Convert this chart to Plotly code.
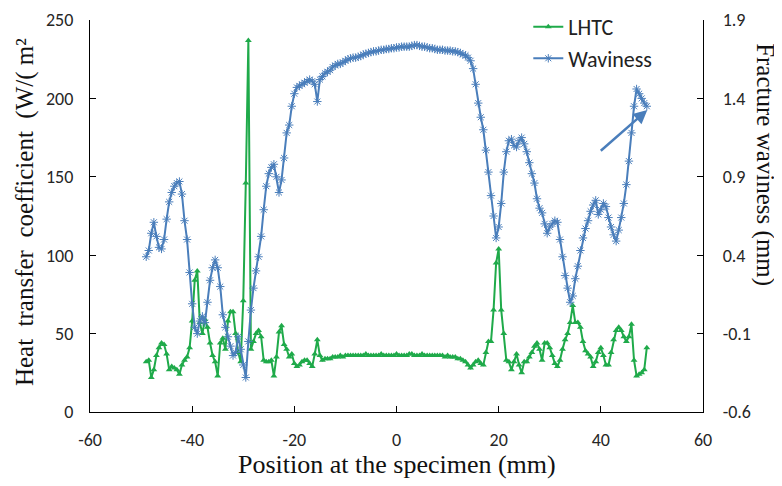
import numpy as np
import plotly.graph_objects as go

# Sample positions (mm) – both series sampled every 0.5 mm from -49 to 49
position_mm = np.arange(-49.0, 49.01, 0.5)

# Local heat transfer coefficient, W/(m2 K)  (left axis)
lhtc = [
    32, 33, 22, 27, 36, 41, 44, 43, 37, 27,
    29, 28, 27, 24, 30, 33, 35, 41, 58, 84,
    90, 57, 50, 59, 54, 44, 36, 32, 23, 44,
    47, 40, 58, 64, 64, 50, 38, 32, 71, 146,
    237,
    40, 45, 50, 52, 48, 33, 32, 32, 33, 23,
    35, 51, 55, 43, 40, 35, 37, 31, 29, 30,
    32, 33, 33, 31, 29, 37, 46, 36, 33, 34,
    34, 34,
    35, 35, 35, 36, 35, 36, 36, 36, 36, 36,
    36, 36, 36, 37, 36, 36, 36, 36, 36, 37,
    36, 36, 36, 36, 36, 37, 36, 36, 36, 36,
    37, 37, 36, 36, 36, 37, 36, 36, 36, 36,
    36, 36, 36, 36, 35, 36, 35, 35, 35, 34,
    34,
    33, 32, 30, 28, 30, 32, 33, 31, 30, 38,
    45, 45, 65, 95, 104, 65, 50, 33, 32, 27,
    32, 37, 30, 25, 32, 32, 35, 38, 42, 44,
    40, 33, 44, 44, 41, 36, 31, 29, 33, 40,
    46, 50, 57, 68, 57, 57, 54, 45, 39, 37,
    35, 29, 32, 38, 41, 36, 30, 30, 38, 46,
    52, 54, 52, 48, 45, 48, 56, 33, 23, 24,
    25, 27, 41,
]

# Fracture waviness, mm (right axis)
waviness = [
    0.39, 0.43, 0.54, 0.61, 0.52, 0.45, 0.44, 0.50, 0.63, 0.74,
    0.80, 0.84, 0.86, 0.87, 0.79, 0.62, 0.50, 0.29, 0.09, -0.06,
    -0.10, -0.02, 0.01, -0.03, 0.10, 0.24, 0.32, 0.37, 0.32, 0.20,
    0.02, -0.06, -0.12, -0.18, -0.24, -0.22, -0.12, -0.20, -0.30, -0.38,
    -0.15, 0.05, 0.19, 0.30, 0.39, 0.52, 0.69, 0.84, 0.92, 0.96,
    0.98, 0.90, 0.80, 0.88, 1.02, 1.18, 1.23, 1.35, 1.43, 1.47,
    1.48, 1.49, 1.50, 1.51, 1.52, 1.51, 1.49, 1.38, 1.52, 1.54,
    1.56, 1.57, 1.58, 1.60, 1.61, 1.62, 1.62, 1.63, 1.64, 1.65,
    1.655, 1.66, 1.66, 1.665, 1.67, 1.68, 1.685, 1.69, 1.695, 1.70,
    1.70, 1.705, 1.71, 1.71, 1.715, 1.715, 1.72, 1.72, 1.725, 1.725,
    1.73, 1.73, 1.73, 1.73, 1.735, 1.74, 1.74, 1.735, 1.73, 1.73,
    1.725, 1.72, 1.72, 1.715, 1.71, 1.71, 1.71, 1.705, 1.705, 1.705,
    1.70, 1.70, 1.695, 1.69, 1.68, 1.675, 1.66, 1.64, 1.59, 1.49,
    1.37, 1.28, 1.20, 1.07, 0.93, 0.78, 0.65, 0.51, 0.58, 0.73,
    0.93, 1.06, 1.13, 1.14, 1.10, 1.09, 1.13, 1.15, 1.11, 1.06,
    0.99, 0.92, 0.86, 0.76, 0.70, 0.67, 0.60, 0.54, 0.58, 0.60,
    0.62, 0.61, 0.50, 0.39, 0.27, 0.19, 0.10, 0.14, 0.25, 0.33,
    0.43, 0.51, 0.57, 0.62, 0.68, 0.72, 0.75, 0.66, 0.69, 0.73,
    0.71, 0.64, 0.58, 0.53, 0.49, 0.56, 0.64, 0.73, 0.85, 1.00,
    1.18, 1.35, 1.46, 1.43, 1.40, 1.37, 1.35,
]

x_ticks = [-60, -40, -20, 0, 20, 40, 60]
x_ticklabels = ["-60", "-40", "-20", "0", "20", "40", "60"]
y_ticks = [0, 50, 100, 150, 200, 250]
y2_ticks = [-0.6, -0.1, 0.4, 0.9, 1.4, 1.9]
y2_ticklabels = ["-0.6", "-0.1", "0.4", "0.9", "1.4", "1.9"]

GREEN = "#1faa4a"
BLUE = "#4a7ebb"
BLUE_MARK = "#a4bfe4"
TICKFONT = dict(family="Carlito, Liberation Sans, Arial", size=18, color="#262626")
SERIF_X = dict(family="Liberation Serif, Times New Roman", size=26, color="#111")
SERIF_Y = dict(family="Liberation Serif, Times New Roman", size=25, color="#111")

fig = go.Figure()
fig.add_trace(go.Scatter(
    x=position_mm, y=lhtc, name="LHTC", mode="lines+markers",
    line=dict(color=GREEN, width=2),
    marker=dict(symbol="triangle-up", size=6, color=GREEN),
    legendgroup="a",
))
fig.add_trace(go.Scatter(
    x=position_mm, y=waviness, name="Waviness", mode="lines+markers", yaxis="y2",
    line=dict(color=BLUE, width=2),
    marker=dict(symbol="asterisk-open", size=7, line=dict(color=BLUE_MARK, width=1)),
    legendgroup="b",
))

axis_common = dict(showgrid=False, zeroline=False, showline=True, linecolor="#000",
                   linewidth=1.2, ticks="inside", ticklen=6, tickcolor="#000",
                   tickfont=TICKFONT)

# The page body adds an 8 px offset, so the figure is sized 8 px smaller.
fig.update_layout(
    width=774, height=478,
    margin=dict(l=82, r=79, t=12, b=74, autoexpand=False),
    paper_bgcolor="white", plot_bgcolor="white",
    showlegend=True,
    legend=dict(x=0.715, y=1.036, xanchor="left", yanchor="top",
                font=dict(family="Carlito, Liberation Sans, Arial", size=22, color="#222"),
                bgcolor="rgba(0,0,0,0)", traceorder="grouped", tracegroupgap=0),
    xaxis=dict(range=[-60, 60], tickvals=x_ticks, ticktext=x_ticklabels,
               ticklabelstandoff=11, **axis_common),
    yaxis=dict(range=[0, 250], tickvals=y_ticks, ticklabelstandoff=12, **axis_common),
    yaxis2=dict(range=[-0.6, 1.9], tickvals=y2_ticks, ticktext=y2_ticklabels,
                overlaying="y", side="right", ticklabelstandoff=15, **axis_common),
    annotations=[
        dict(text="Position at the specimen (mm)", xref="paper", yref="paper",
             x=0.5, y=-0.135, showarrow=False, font=SERIF_X,
             xanchor="center", yanchor="middle"),
        dict(text="Heat  transfer  coefficient  (W/( m²", xref="paper", yref="paper",
             x=-0.106, y=0.51, textangle=-90, showarrow=False, font=SERIF_Y,
             xanchor="center", yanchor="middle"),
        dict(text="Fracture waviness (mm)", xref="paper", yref="paper",
             x=1.101, y=0.63, textangle=90, showarrow=False, font=SERIF_Y,
             xanchor="center", yanchor="middle"),
        dict(text="", x=49.1, y=192.6, xref="x", yref="y",
             ax=39.7, ay=165.8, axref="x", ayref="y",
             showarrow=True, arrowhead=2, arrowsize=1.1, arrowwidth=2.5,
             arrowcolor=BLUE),
    ],
)

fig.write_html("out.html")
